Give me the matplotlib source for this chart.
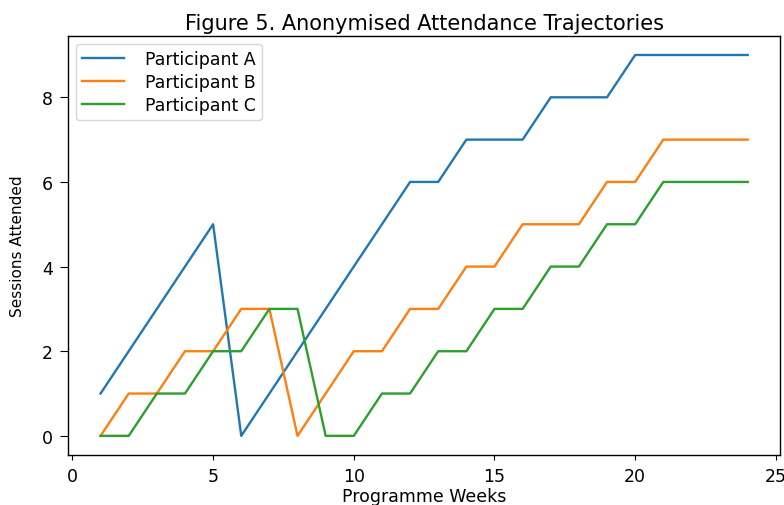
import numpy as np
import matplotlib
matplotlib.use("Agg")
import matplotlib.pyplot as plt

# weekly cumulative attendance
weeks = list(range(1, 25))
part_a = [1, 2, 3, 4, 5, 0, 1, 2, 3, 4, 5, 6, 6, 7, 7, 7, 8, 8, 8, 9, 9, 9, 9, 9]
part_b = [0, 1, 1, 2, 2, 3, 3, 0, 1, 2, 2, 3, 3, 4, 4, 5, 5, 5, 6, 6, 7, 7, 7, 7]
part_c = [0, 0, 1, 1, 2, 2, 3, 3, 0, 0, 1, 1, 2, 2, 3, 3, 4, 4, 5, 5, 6, 6, 6, 6]
labels = ["Participant A", "Participant B", "Participant C"]

fig = plt.figure(figsize=(7.84, 5.06), dpi=100)
ax = fig.add_axes([0.087, 0.099, 0.908, 0.828])

for vals, lab in zip([part_a, part_b, part_c], labels):
    ax.plot(weeks, vals, label=lab, lw=1.7)

ax.set_xticks([0, 5, 10, 15, 20, 25])
ax.set_yticks([0, 2, 4, 6, 8])
ax.set_xlabel("Programme Weeks", fontsize=12.5, labelpad=2)
ax.set_ylabel("Sessions Attended", fontsize=11, labelpad=12)
ax.set_title("Figure 5. Anonymised Attendance Trajectories", fontsize=15, pad=5)
ax.tick_params(axis="x", labelsize=12.5, pad=5)
ax.tick_params(axis="y", labelsize=12.5, length=6, pad=5)
for s in ax.spines.values():
    s.set_linewidth(1.0)
ax.legend(loc="upper left", fontsize=12.5, handlelength=2.4, handletextpad=1.2,
          labelspacing=0.3, borderpad=0.35, borderaxespad=0.45)

fig.savefig("out.png", dpi=100)
